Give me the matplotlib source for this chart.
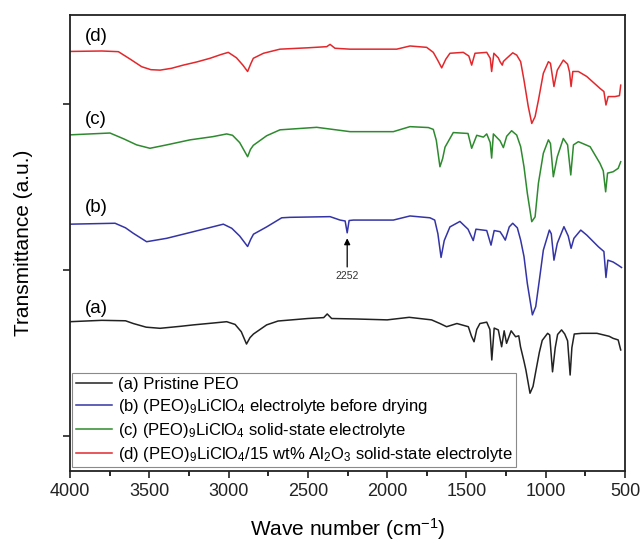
import matplotlib
matplotlib.use("Agg")
import matplotlib.pyplot as plt

plt.rcParams['font.family'] = ['Liberation Sans', 'DejaVu Sans']
plt.rcParams['mathtext.fontset'] = 'custom'
plt.rcParams['mathtext.rm'] = 'Liberation Sans'
plt.rcParams['mathtext.it'] = 'Liberation Sans:italic'

# FTIR spectra, stacked (transmittance in arbitrary units, offsets included)
wn_a = [4000, 3800, 3650, 3601, 3520, 3432, 3300, 3222, 3100, 3012, 2959, 2920,
        2887, 2865, 2843, 2760, 2688, 2500, 2400, 2378, 2350, 2200, 2000, 1861,
        1720, 1667, 1625, 1560, 1488, 1468, 1452, 1435, 1415, 1372, 1352, 1340,
        1325, 1299, 1278, 1262, 1247, 1218, 1190, 1170, 1159, 1137, 1125, 1099,
        1080, 1061, 1040, 1022, 988, 975, 957, 940, 925, 900, 880, 862, 846, 835,
        820, 773, 677, 600, 575, 543, 527]
tr_a = [32.7, 33.0, 32.9, 32.3, 31.5, 31.25, 31.7, 32.0, 32.4, 32.7, 32.1, 30.5,
        27.8, 29.2, 30.0, 32.0, 32.85, 33.4, 33.6, 34.4, 33.4, 33.3, 33.1, 33.66,
        33.1, 32.3, 31.6, 32.3, 31.6, 29.5, 28.3, 31.0, 32.3, 32.6, 31.0, 24.3,
        31.3, 30.9, 27.2, 30.7, 27.95, 30.7, 29.4, 29.6, 27.2, 24.0, 22.1, 17.0,
        18.5, 22.1, 26.0, 28.6, 30.15, 29.8, 21.7, 27.0, 29.9, 30.9, 30.0, 28.5, 21.0, 27.0,
        30.0, 30.15, 30.15, 29.5, 29.05, 28.7, 26.5]

wn_b = [4000, 3716, 3650, 3601, 3517, 3390, 3222, 3033, 2980, 2930, 2880, 2860,
        2843, 2760, 2665, 2613, 2360, 2297, 2265, 2252, 2240, 2213, 1961, 1856,
        1730, 1700, 1680, 1660, 1640, 1604, 1541, 1490, 1457, 1440, 1372, 1345,
        1325, 1288, 1270, 1255, 1230, 1208, 1179, 1158, 1137, 1116, 1084, 1063,
        1040, 1015, 977, 965, 948, 927, 885, 858, 840, 822, 779, 741, 668, 633,
        620, 608, 575, 543, 522]
tr_b = [54.1, 54.3, 53.3, 52.1, 50.25, 51.0, 52.45, 54.1, 53.2, 51.5, 49.2, 50.8,
        51.9, 53.5, 55.5, 55.6, 55.75, 55.0, 54.8, 52.2, 54.9, 55.0, 55.0, 55.9,
        55.5, 55.0, 52.0, 46.8, 50.5, 53.5, 54.7, 53.0, 50.5, 53.0, 52.7, 49.5,
        52.7, 52.45, 51.5, 50.6, 53.5, 54.3, 53.3, 50.6, 47.0, 41.1, 34.2, 36.0,
        41.85, 48.4, 52.8, 52.0, 46.2, 49.9, 53.55, 51.5, 48.8, 51.0, 52.8, 51.7, 49.15, 48.1,
        42.4, 46.2, 45.8, 45.1, 44.6]

wn_c = [4000, 3748, 3660, 3580, 3496, 3390, 3243, 3100, 3012, 2975, 2930, 2880,
        2862, 2844, 2760, 2676, 2444, 2234, 1961, 1856, 1740, 1709, 1690, 1667,
        1650, 1635, 1583, 1490, 1467, 1435, 1393, 1372, 1350, 1341, 1330, 1288,
        1267, 1246, 1215, 1183, 1158, 1137, 1116, 1088, 1067, 1046, 1015, 983,
        970, 952, 927, 889, 862, 842, 825, 794, 720, 658, 637, 622, 610, 575,
        543, 527]
tr_c = [73.7, 74.1, 72.8, 71.5, 70.75, 71.5, 72.6, 73.3, 73.9, 73.6, 72.0, 68.9,
        70.5, 71.4, 73.5, 74.8, 75.35, 74.4, 74.4, 75.5, 75.3, 74.9, 72.5, 66.7,
        68.5, 71.0, 74.2, 74.0, 70.75, 73.6, 73.2, 73.9, 72.0, 68.6, 73.9, 72.4,
        70.9, 73.4, 74.6, 73.65, 71.1, 66.7, 60.9, 54.65, 55.7, 63.1, 69.65, 72.6,
        71.8, 64.5, 68.9, 72.9, 71.5, 64.9, 71.5, 72.2, 71.1, 67.45, 65.8, 61.2, 65.3, 65.6,
        66.35, 67.8]

wn_d = [4000, 3800, 3695, 3620, 3548, 3490, 3432, 3360, 3286, 3200, 3117, 3050,
        3002, 2950, 2910, 2880, 2860, 2844, 2780, 2676, 2500, 2381, 2360, 2329,
        2234, 1940, 1856, 1751, 1709, 1680, 1656, 1630, 1604, 1520, 1485, 1467,
        1446, 1372, 1350, 1341, 1327, 1299, 1288, 1274, 1267, 1246, 1208, 1183,
        1158, 1137, 1110, 1088, 1067, 1046, 1015, 983, 970, 948, 927, 889, 862,
        850, 840, 829, 794, 741, 658, 633, 620, 606, 563, 535, 527]
tr_d = [92.0, 92.1, 91.95, 90.3, 88.65, 88.0, 87.9, 88.3, 89.0, 89.7, 90.5, 91.3,
        91.8, 90.6, 89.0, 87.6, 89.3, 90.5, 91.6, 92.5, 92.8, 93.05, 93.55, 92.7,
        92.5, 92.5, 93.2, 92.9, 91.8, 90.0, 88.4, 90.3, 91.6, 91.8, 91.0, 89.0,
        91.6, 91.8, 90.5, 87.6, 91.6, 90.6, 89.75, 89.0, 89.8, 90.5, 91.7, 91.2,
        89.75, 85.7, 79.9, 76.2, 77.7, 81.3, 87.2, 89.75, 89.4, 84.3, 87.9, 90.1, 89.2,
        87.5, 84.3, 87.6, 87.6, 86.5, 83.9, 83.2, 80.25, 82.1, 82.1, 82.3, 84.6]

labels = ['(a) Pristine PEO',
          r'(b) (PEO)$_9$LiClO$_4$ electrolyte before drying',
          r'(c) (PEO)$_9$LiClO$_4$ solid-state electrolyte',
          r'(d) (PEO)$_9$LiClO$_4$/15 wt% Al$_2$O$_3$ solid-state electrolyte']
colors = ['#222222', '#3434a6', '#2e8a2e', '#e2282c']
tags = ['(a)', '(b)', '(c)', '(d)']
tag_y = [35.7, 57.65, 76.96, 95.2]

fig = plt.figure(figsize=(6.43, 5.41), dpi=100)
ax = fig.add_axes([0.1089, 0.1299, 0.8631, 0.8424])

series = [(wn_a, tr_a), (wn_b, tr_b), (wn_c, tr_c), (wn_d, tr_d)]
for (x, y), c, lab in zip(series, colors, labels):
    ax.plot(x, y, color=c, lw=1.1, label=lab)

for t, ty in zip(tags, tag_y):
    ax.text(3905, ty, t, fontsize=13.5, ha='left', va='center')

ax.annotate('2252', xy=(2252, 51.0), xytext=(2252, 43.8),
            ha='center', va='top', fontsize=7.5, color='#333333',
            arrowprops=dict(arrowstyle='-|>', color='black', lw=0.9,
                            mutation_scale=9, shrinkA=1, shrinkB=0))

ax.set_xlim(4000, 500)
ax.set_ylim(0, 100)
ax.set_xticks([4000, 3500, 3000, 2500, 2000, 1500, 1000, 500])
ax.set_xticks([3750, 3250, 2750, 2250, 1750, 1250, 750], minor=True)
ax.set_yticks([7.6, 44.1, 80.5])
ax.set_yticklabels([])
ax.tick_params(axis='both', which='major', direction='out', length=5, width=1.2,
               labelsize=13, colors='#222222')
ax.tick_params(axis='x', which='minor', direction='out', length=3.5, width=1.2)
for s in ax.spines.values():
    s.set_linewidth(1.3)
    s.set_color('#222222')

ax.set_xlabel('Wave number (cm$^{-1}$)', fontsize=15, labelpad=12)
ax.set_ylabel('Transmittance (a.u.)', fontsize=15, labelpad=18)

leg = ax.legend(loc='lower left', bbox_to_anchor=(0.004, 0.008), borderaxespad=0,
                fontsize=12, fancybox=False, framealpha=1, edgecolor='#8a8a8a',
                handlelength=2.2, handletextpad=0.35, borderpad=0.2,
                labelspacing=0.3)
leg.get_frame().set_linewidth(0.8)

fig.savefig('out.png', dpi=100)
